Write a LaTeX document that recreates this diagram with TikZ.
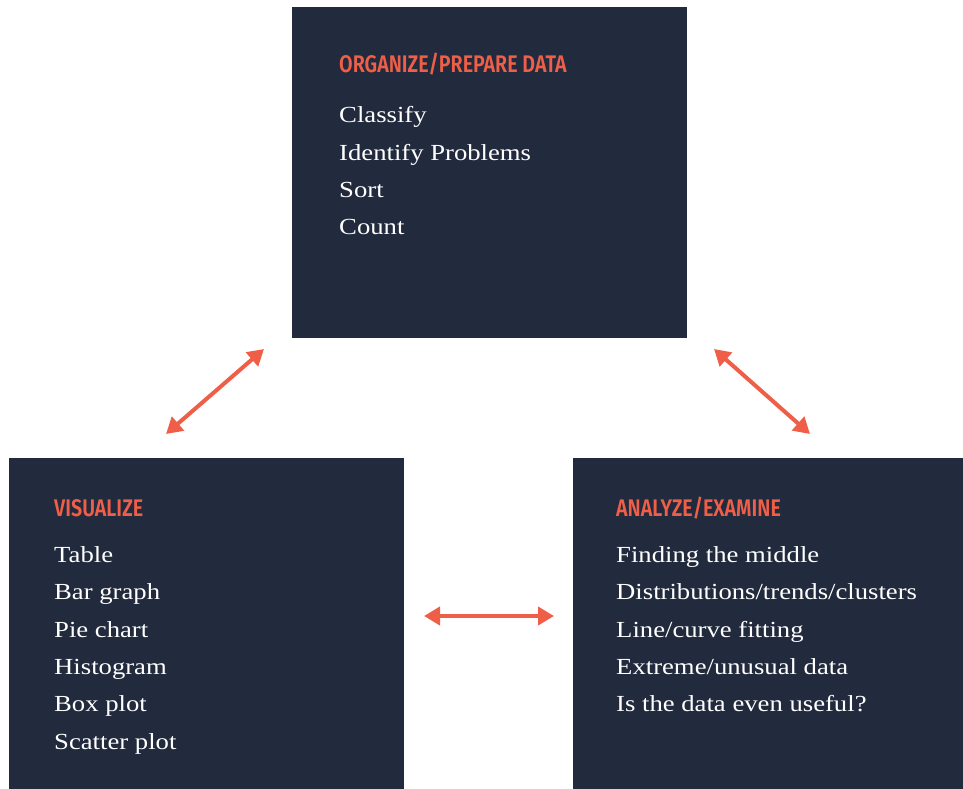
\documentclass[tikz,border=0pt]{standalone}
\usepackage{fontspec}
\setmainfont{Liberation Serif}[FakeStretch=1.16]
\newfontfamily\hdrfont{Fira Sans}[FakeStretch=0.82,UprightFont=* SemiBold]
\usetikzlibrary{arrows.meta}
\definecolor{navy}{HTML}{222A3D}
\definecolor{accent}{HTML}{EF5F48}
\tikzset{
  box/.style={fill=navy,draw=none},
  hdr/.style={anchor=base west,inner sep=0pt,text=accent,font=\hdrfont\fontsize{24}{24}\selectfont},
  item/.style={anchor=base west,inner sep=0pt,text=white,font=\fontsize{23}{23}\selectfont},
  link/.style={draw=accent,line width=4pt,{Triangle[length=16pt,width=18pt]}-{Triangle[length=16pt,width=18pt]}},
}
\begin{document}
\begin{tikzpicture}[x=1pt,y=-1pt]
\useasboundingbox (0,0) rectangle (963,789);
\fill[box] (292,7) rectangle (687,338);
\fill[box] (9,458) rectangle (404,789);
\fill[box] (573,458) rectangle (963,789);
% top box
\node[hdr] (th) at (339,73) {ORGANIZE/PREPARE DATA};
\node[item] (t1) at (339,122) {Classify};
\node[item] (t2) at (339,160) {Identify Problems};
\node[item] (t3) at (339,197) {Sort};
\node[item] (t4) at (339,234) {Count};
% left box
\node[hdr] (lh) at (54,516) {VISUALIZE};
\node[item] (l1) at (54,562) {Table};
\node[item] (l2) at (54,599) {Bar graph};
\node[item] (l3) at (54,637) {Pie chart};
\node[item] (l4) at (54,674) {Histogram};
\node[item] (l5) at (54,711) {Box plot};
\node[item] (l6) at (54,749) {Scatter plot};
% right box
\node[hdr] (rh) at (616,516) {ANALYZE/EXAMINE};
\node[item] (r1) at (616,562) {Finding the middle};
\node[item] (r2) at (616,599) {Distributions/trends/clusters};
\node[item] (r3) at (616,637) {Line/curve fitting};
\node[item] (r4) at (616,674) {Extreme/unusual data};
\node[item] (r5) at (616,711) {Is the data even useful?};
% arrows
\coordinate (a1) at (166,434); \coordinate (a2) at (264,349);
\coordinate (b1) at (714,349); \coordinate (b2) at (810,434);
\coordinate (c1) at (424,616); \coordinate (c2) at (554,616);
\draw[link] (a1) -- (a2);
\draw[link] (b1) -- (b2);
\draw[link] (c1) -- (c2);
\end{tikzpicture}
\end{document}
